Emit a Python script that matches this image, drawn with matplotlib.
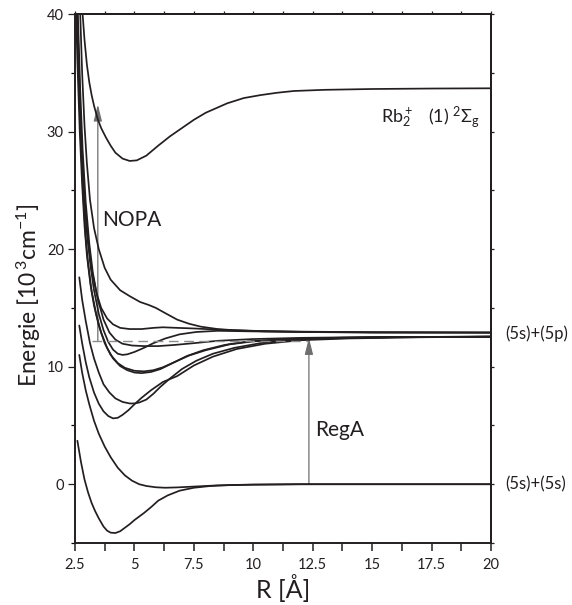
import matplotlib
matplotlib.use("Agg")
import matplotlib.pyplot as plt
from matplotlib.patches import FancyArrowPatch

plt.rcParams['font.family'] = ['Lato', 'DejaVu Sans']
plt.rcParams['mathtext.fontset'] = 'custom'
plt.rcParams['mathtext.rm'] = 'Lato'
plt.rcParams['mathtext.it'] = 'Lato:italic'
plt.rcParams['mathtext.bf'] = 'Lato:bold'

# ---------------- data (R in Angstrom, E in 10^3 cm^-1) ----------------
# ground state, (5s)+(5s)
R_X = [2.6, 2.75, 2.9, 3.05, 3.2, 3.35, 3.5, 3.7, 3.85, 4.0, 4.2, 4.4, 4.6, 4.8, 5.0, 5.2, 5.4,
       5.7, 6.0, 6.4, 6.9, 7.5, 8.2, 9.0, 10.0, 12.0, 20.0]
E_X = [3.7, 1.9, 0.4, -0.7, -1.6, -2.3, -2.9, -3.6, -3.95, -4.12, -4.15, -4.0, -3.7, -3.4, -3.05,
       -2.75, -2.45, -1.95, -1.4, -0.95, -0.55, -0.3, -0.15, -0.07, -0.03, 0.0, 0.0]
# triplet, (5s)+(5s)
R_a = [2.68, 2.8, 2.95, 3.1, 3.3, 3.5, 3.75, 4.0, 4.3, 4.6, 4.9, 5.2, 5.5, 5.9, 6.3, 6.8, 7.5,
       8.5, 10.0, 12.0, 20.0]
E_a = [11.0, 9.5, 8.0, 6.8, 5.4, 4.3, 3.2, 2.3, 1.4, 0.75, 0.3, 0.0, -0.15, -0.26, -0.3, -0.27,
       -0.2, -0.1, -0.04, 0.0, 0.0]
# states correlating to (5s)+(5p)
R_C = [2.68, 2.8, 2.95, 3.1, 3.3, 3.5, 3.7, 3.9, 4.1, 4.3, 4.5, 4.75, 5.0, 5.3, 5.7, 6.2, 6.8,
       7.5, 8.3, 9.3, 10.5, 12.0, 14.0, 17.0, 20.0]
E_C = [13.5, 12.0, 10.4, 9.1, 7.8, 6.85, 6.2, 5.8, 5.6, 5.65, 5.9, 6.3, 6.8, 7.35, 8.0, 8.7, 9.2,
       10.1, 10.85, 11.5, 11.95, 12.25, 12.4, 12.5, 12.55]
R_D = [2.68, 2.8, 2.95, 3.13, 3.3, 3.5, 3.7, 3.95, 4.2, 4.5, 4.8, 5.0, 5.2, 5.5, 5.8, 6.1, 6.5,
       7.0, 7.6, 8.3, 9.2, 10.3, 11.5, 13.0, 16.0, 20.0]
E_D = [17.6, 15.7, 13.9, 12.0, 10.7, 9.5, 8.5, 7.8, 7.3, 7.0, 6.87, 6.87, 6.95, 7.2, 7.7, 8.3,
       9.0, 9.8, 10.5, 11.1, 11.6, 12.0, 12.25, 12.4, 12.5, 12.55]
R_I1 = [2.55, 2.6, 2.7, 2.8, 2.9, 3.0, 3.15, 3.3, 3.5, 3.75, 4.0, 4.3, 4.6, 5.0, 5.4, 5.8, 6.2,
        6.7, 7.3, 8.0, 9.0, 10.0, 11.5, 13.5, 16.0, 20.0]
E_I1 = [40.0, 36.0, 30.0, 25.5, 22.0, 19.5, 17.0, 15.2, 13.5, 12.0, 11.0, 10.3, 9.9, 9.65, 9.6,
        9.7, 9.95, 10.4, 10.95, 11.4, 11.9, 12.15, 12.35, 12.45, 12.52, 12.55]
R_I2 = [2.58, 2.65, 2.75, 2.85, 2.95, 3.05, 3.2, 3.4, 3.6, 3.85, 4.1, 4.4, 4.7, 5.0, 5.3, 5.7,
        6.1, 6.6, 7.2, 7.9, 8.8, 9.8, 11.3, 13.3, 16.0, 20.0]
E_I2 = [40.0, 35.0, 29.0, 24.5, 21.0, 18.8, 16.4, 14.4, 12.9, 11.6, 10.7, 10.05, 9.7, 9.5, 9.45,
        9.55, 9.8, 10.3, 10.9, 11.4, 11.85, 12.15, 12.35, 12.45, 12.52, 12.55]
R_H = [2.6, 2.7, 2.8, 2.9, 3.0, 3.15, 3.3, 3.5, 3.7, 3.9, 4.1, 4.3, 4.5, 4.7, 5.0, 5.4, 5.8,
       6.3, 6.9, 7.6, 8.5, 10.0, 12.0, 15.0, 20.0]
E_H = [40.0, 33.0, 28.0, 24.3, 21.5, 18.6, 16.5, 14.5, 13.1, 12.1, 11.45, 11.1, 11.0, 11.05,
       11.25, 11.6, 12.0, 12.4, 12.75, 12.95, 13.05, 13.0, 12.95, 12.9, 12.9]
R_J = [2.62, 2.72, 2.82, 2.95, 3.1, 3.25, 3.45, 3.7, 3.95, 4.2, 4.5, 4.9, 5.4, 6.0, 6.7, 7.5,
       8.5, 10.0, 12.0, 15.0, 20.0]
E_J = [40.0, 33.5, 28.5, 24.0, 20.5, 18.0, 15.8, 14.0, 12.9, 12.3, 11.95, 11.8, 11.75, 11.75,
       11.85, 12.0, 12.2, 12.35, 12.45, 12.52, 12.55]
R_F = [2.58, 2.68, 2.78, 2.9, 3.05, 3.2, 3.4, 3.6, 3.85, 4.1, 4.4, 4.8, 5.3, 5.8, 6.2, 6.8, 7.5,
       8.5, 10.0, 12.0, 15.0, 20.0]
E_F = [40.0, 33.0, 28.0, 24.0, 20.6, 18.3, 16.3, 15.0, 14.1, 13.6, 13.3, 13.2, 13.2, 13.3,
       13.35, 13.3, 13.25, 13.15, 13.05, 12.98, 12.93, 12.9]
R_S = [2.72, 2.8, 2.9, 3.0, 3.13, 3.3, 3.5, 3.75, 4.0, 4.4, 4.8, 5.24, 5.6, 5.9, 6.3, 6.8, 7.3,
       7.8, 8.5, 9.2, 10.5, 12.5, 15.0, 20.0]
E_S = [40.0, 35.0, 30.5, 27.3, 24.2, 21.8, 20.0, 18.4, 17.4, 16.5, 16.0, 15.5, 15.25, 15.0,
       14.55, 14.0, 13.65, 13.4, 13.2, 13.1, 13.0, 12.95, 12.92, 12.9]
# Rb2+ (1) 2Sigma_g
R_ion = [2.82, 2.9, 3.0, 3.1, 3.2, 3.3, 3.45, 3.6, 3.8, 4.0, 4.2, 4.5, 4.8, 5.1, 5.5, 6.0, 6.5,
         7.0, 7.5, 8.0, 8.9, 9.6, 10.3, 11.0, 11.7, 13.0, 15.0, 17.5, 20.0]
E_ion = [40.0, 37.8, 35.7, 34.2, 33.1, 32.2, 31.1, 30.3, 29.5, 28.8, 28.2, 27.7, 27.5, 27.55,
         27.95, 28.8, 29.6, 30.3, 31.0, 31.6, 32.4, 32.85, 33.1, 33.3, 33.45, 33.55, 33.62,
         33.66, 33.68]

curves = [(R_X, E_X), (R_a, E_a), (R_C, E_C), (R_D, E_D), (R_I1, E_I1), (R_I2, E_I2),
          (R_H, E_H), (R_J, E_J), (R_F, E_F), (R_S, E_S), (R_ion, E_ion)]

# transitions
nopa_R, nopa_E0, nopa_E1 = 3.46, 12.15, 32.3
rega_R, rega_E0, rega_E1 = 12.34, 0.0, 12.45
dash_R = [3.2, 12.3]
dash_E = [12.15, 12.15]

x_ticks = [2.5, 5, 7.5, 10, 12.5, 15, 17.5, 20]
x_ticklabels = ['2.5', '5', '7.5', '10', '12.5', '15', '17.5', '20']
x_minor = [3.75, 6.25, 8.75, 11.25, 13.75, 16.25, 18.75]
y_ticks = [0, 10, 20, 30, 40]
y_minor = [-5, 5, 15, 25, 35]

# ---------------- figure ----------------
fig = plt.figure(figsize=(5.72, 6.05), dpi=100)
ax = fig.add_axes([75/572, 62/605, 416/572, 529/605])
ink = '#231f20'

for R, E in curves:
    ax.plot(R, E, color=ink, lw=1.25, solid_capstyle='round')

ax.plot(dash_R, dash_E, color='#8c8c8c', lw=1.0, dashes=(7, 4))

for (xr, e0, e1) in [(nopa_R, nopa_E0, nopa_E1), (rega_R, rega_E0, rega_E1)]:
    ar = FancyArrowPatch((xr, e0), (xr, e1),
                         arrowstyle='-|>,head_length=10,head_width=2.5',
                         mutation_scale=1, lw=0.9, color='#6e6e6e',
                         facecolor='#a0a0a0', shrinkA=0, shrinkB=0)
    ax.add_patch(ar)

ax.set_xlim(2.5, 20)
ax.set_ylim(-5, 40)
ax.set_xticks(x_ticks)
ax.set_xticklabels(x_ticklabels)
ax.set_xticks(x_minor, minor=True)
ax.set_yticks(y_ticks)
ax.set_yticks(y_minor, minor=True)

for s in ax.spines.values():
    s.set_linewidth(1.4)
    s.set_color(ink)

ax.tick_params(axis='x', which='both', direction='out', length=5.5, width=1.1,
               labelsize=10.5, pad=5, colors=ink, top=False)
ax.tick_params(axis='y', which='major', direction='out', length=5, width=0.9,
               labelsize=10.5, pad=3, colors=ink, right=False)
ax.tick_params(axis='y', which='minor', direction='out', length=3, width=0.9,
               right=False)

# small ticks on the top and right frame
secx = ax.secondary_xaxis('top')
secx.set_xticks(x_ticks + x_minor)
secx.tick_params(direction='out', length=2, width=0.9, labeltop=False, colors=ink)
secx.spines['top'].set_linewidth(1.4)
secx.spines['top'].set_color(ink)
secy = ax.secondary_yaxis('right')
secy.set_yticks(y_ticks + y_minor)
secy.tick_params(direction='out', length=2, width=0.9, labelright=False, colors=ink)
secy.spines['right'].set_linewidth(1.4)
secy.spines['right'].set_color(ink)

ax.set_xlabel('R [Å]', fontsize=18, color=ink, labelpad=2)
ax.set_ylabel('Energie [10$^{\\,3}$cm$^{-1}$]', fontsize=16.5, color=ink)
ax.yaxis.set_label_coords(-0.078, 0.468)

ax.text(3.63, 22.5, 'NOPA', fontsize=15, color=ink, va='center', ha='left')
ax.text(12.62, 4.6, 'RegA', fontsize=15, color=ink, va='center', ha='left')
ax.text(15.36, 31.2, 'Rb$_2^+$   (1) $^2\\Sigma_\\mathrm{g}$', fontsize=13, color=ink,
        va='center', ha='left')
ax.text(1.034, 12.8, '(5s)+(5p)', fontsize=12, color=ink, va='center', ha='left',
        transform=ax.get_yaxis_transform(), clip_on=False)
ax.text(1.034, 0.0, '(5s)+(5s)', fontsize=12, color=ink, va='center', ha='left',
        transform=ax.get_yaxis_transform(), clip_on=False)

fig.savefig('out.png', dpi=100)
